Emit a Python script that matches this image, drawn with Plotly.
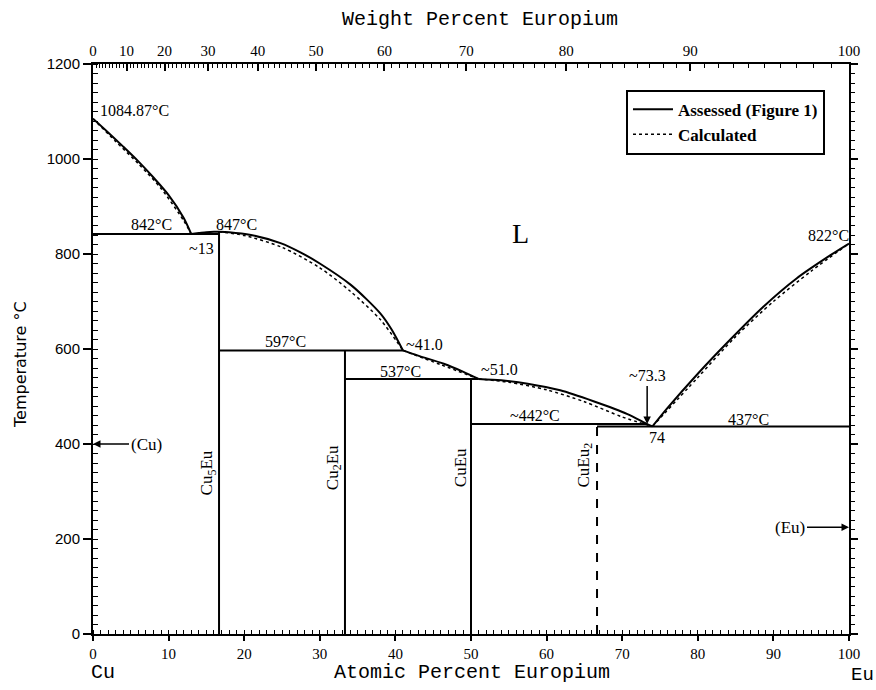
import plotly.graph_objects as go

# ---------------- data (atomic % Eu, temperature in deg C) ----------------
# Assessed liquidus branches
liq_cu_x = [0, 2, 4, 6, 8, 10, 12, 13]
liq_cu_t = [1084.87, 1056, 1026, 995, 961, 924, 876, 842]

liq_cu5_left_x = [13, 14, 15, 16, 16.67]
liq_cu5_left_t = [842, 844, 846, 847, 847]

liq_cu5_x = [16.67, 18, 20.9, 24.8, 27.5, 30, 34.1, 38.0, 39.5, 41.0]
liq_cu5_t = [847, 846, 840, 823, 803, 780, 735, 675, 641, 597]

liq_cu2_x = [41.0, 43, 46.4, 49, 51.0]
liq_cu2_t = [597, 586, 569, 552, 537]

liq_cueu_x = [51.0, 54, 57.5, 61.8, 66.2, 70.7, 73.3, 74]
liq_cueu_t = [537, 534, 527, 513, 490, 463, 442, 437]

liq_eu_x = [74, 76, 80, 84.3, 88.6, 93.1, 97.5, 100]
liq_eu_t = [437, 476, 548, 620, 688, 749, 797, 822]

# Calculated liquidus branches
calc_cu_x = [0, 3, 6, 9, 12, 13]
calc_cu_t = [1084.87, 1037, 990, 938, 870, 842]
calc_cu5_x = [16.67, 20, 25, 30, 34, 38, 41]
calc_cu5_t = [847, 839, 814, 771, 722, 662, 597]
calc_cu2_x = [41, 46, 51]
calc_cu2_t = [597, 567, 537]
calc_cueu_x = [51, 55, 60, 65, 70, 74]
calc_cueu_t = [537, 530, 514, 489, 457, 437]
calc_eu_x = [74, 80, 85, 90, 95, 100]
calc_eu_t = [437, 540, 626, 700, 764, 822]

# Invariant (horizontal) lines: (x_start, x_end, temperature)
invariants = [(0, 16.67, 842), (16.67, 41.0, 597), (33.33, 51.0, 537),
              (50.0, 73.3, 442), (66.67, 100, 437)]
# Compound lines: (composition, top temperature, dashed?)
compounds = [(16.67, 847, False), (33.33, 597, False), (50.0, 537, False), (66.67, 442, True)]

# Tick definitions
at_ticks = list(range(0, 101, 10))
wt_ticks = list(range(0, 101, 10))
t_ticks = list(range(0, 1201, 200))

M_CU, M_EU = 63.546, 151.96


def wt_to_at(w):
    if w >= 100:
        return 100.0
    ne = w / M_EU
    nc = (100 - w) / M_CU
    return 100 * ne / (ne + nc)


wt_tick_pos = [wt_to_at(w) for w in wt_ticks]
wt_minor_pos = [wt_to_at(w) for w in range(0, 101)]

# ---------------- figure ----------------
fig = go.Figure()
LW = 2
solid = dict(color="black", width=LW, shape="spline", smoothing=0.8)
solid_straight = dict(color="black", width=LW)
dotted = dict(color="black", width=1.5, dash="dot", shape="spline", smoothing=0.8)

first = True
for xs, ts in [(liq_cu_x, liq_cu_t), (liq_cu5_left_x, liq_cu5_left_t), (liq_cu5_x, liq_cu5_t),
               (liq_cu2_x, liq_cu2_t), (liq_cueu_x, liq_cueu_t), (liq_eu_x, liq_eu_t)]:
    fig.add_trace(go.Scatter(x=xs, y=ts, mode="lines", line=solid, name="Assessed (Figure 1)",
                             legendgroup="a", showlegend=first, hoverinfo="skip"))
    first = False

first = True
for xs, ts in [(calc_cu_x, calc_cu_t), (calc_cu5_x, calc_cu5_t), (calc_cu2_x, calc_cu2_t),
               (calc_cueu_x, calc_cueu_t), (calc_eu_x, calc_eu_t)]:
    fig.add_trace(go.Scatter(x=xs, y=ts, mode="lines", line=dotted, name="Calculated",
                             legendgroup="c", showlegend=first, hoverinfo="skip"))
    first = False

for x0, x1, t in invariants:
    fig.add_trace(go.Scatter(x=[x0, x1], y=[t, t], mode="lines", line=solid_straight,
                             showlegend=False, hoverinfo="skip"))

for xc, ttop, dashed in compounds:
    ln = dict(color="black", width=LW, dash="dash") if dashed else solid_straight
    fig.add_trace(go.Scatter(x=[xc, xc], y=[0, ttop], mode="lines", line=ln,
                             showlegend=False, hoverinfo="skip"))

# invisible traces to activate the secondary axes
fig.add_trace(go.Scatter(x=[0, 100], y=[0, 0], xaxis="x2", yaxis="y", mode="lines",
                         line=dict(width=0), showlegend=False, hoverinfo="skip"))
fig.add_trace(go.Scatter(x=[100, 100], y=[0, 1200], xaxis="x", yaxis="y3", mode="lines",
                         line=dict(width=0), showlegend=False, hoverinfo="skip"))

TICKFONT = dict(family="Liberation Sans Narrow", size=15, color="black")
LBL = dict(family="Liberation Serif", size=16, color="black")

fig.update_layout(
    width=876, height=690,
    margin=dict(l=93, r=27, t=64, b=56),
    paper_bgcolor="white", plot_bgcolor="white",
    showlegend=True,
    legend=dict(x=0.705, y=0.955, xanchor="left", yanchor="top",
                bgcolor="white", bordercolor="black", borderwidth=2,
                font=dict(family="Liberation Serif", size=17, color="black", weight="bold"),
                tracegroupgap=0, itemwidth=40),
    xaxis=dict(range=[0, 100], tickmode="array", tickvals=at_ticks,
               ticks="outside", ticklen=5, tickwidth=1.5, tickcolor="black",
               showline=True, linecolor="black", linewidth=2, showgrid=False, zeroline=False,
               tickfont=TICKFONT,
               minor=dict(dtick=1, tick0=0, ticks="inside", ticklen=4, tickcolor="black",
                          tickwidth=1, showgrid=False)),
    xaxis2=dict(range=[0, 100], overlaying="x", side="top", tickmode="array",
                tickvals=wt_tick_pos, ticktext=[str(w) for w in wt_ticks],
                ticks="inside", ticklen=7, tickwidth=1.5, tickcolor="black",
                showline=True, linecolor="black", linewidth=2, showgrid=False, zeroline=False,
                tickfont=TICKFONT,
                minor=dict(tickmode="array", tickvals=wt_minor_pos, ticks="inside", ticklen=4,
                           tickcolor="black", tickwidth=1, showgrid=False)),
    yaxis=dict(range=[0, 1200], tickmode="array", tickvals=t_ticks,
               ticks="outside", ticklen=8, tickwidth=1.5, tickcolor="black",
               showline=True, linecolor="black", linewidth=2, showgrid=False, zeroline=False,
               tickfont=dict(family="Liberation Sans", size=15, color="black"),
               minor=dict(dtick=20, tick0=0, ticks="inside", ticklen=5, tickcolor="black",
                          tickwidth=1, showgrid=False)),
    yaxis3=dict(range=[0, 1200], overlaying="y", side="right", tickmode="array",
                tickvals=t_ticks, showticklabels=False,
                ticks="outside", ticklen=7, tickwidth=1.5, tickcolor="black",
                showline=True, linecolor="black", linewidth=2, showgrid=False, zeroline=False,
                minor=dict(dtick=20, tick0=0, ticks="outside", ticklen=4, tickcolor="black",
                           tickwidth=1, showgrid=False)),
)

# paper-coordinate helpers (plot area: x 93..849 px, y 64..634 px)
def px(xp):
    return (xp - 93) / 756.0


def py(yp):
    return (634 - yp) / 570.0


ann = []
TITLEFONT = dict(family="Liberation Mono", size=20, color="black")
ann.append(dict(xref="paper", yref="paper", x=px(480), y=py(20), text="Weight Percent Europium",
                showarrow=False, font=TITLEFONT, xanchor="center", yanchor="middle"))
ann.append(dict(xref="paper", yref="paper", x=px(472), y=py(672), text="Atomic Percent Europium",
                showarrow=False, font=TITLEFONT, xanchor="center", yanchor="middle"))
ann.append(dict(xref="paper", yref="paper", x=px(20), y=py(365), text="Temperature °C",
                showarrow=False, font=dict(family="DejaVu Sans", size=16, color="black"),
                textangle=-90, xanchor="center", yanchor="middle"))
ann.append(dict(xref="paper", yref="paper", x=px(103), y=py(672), text="Cu",
                showarrow=False, font=TITLEFONT, xanchor="center", yanchor="middle"))
ann.append(dict(xref="paper", yref="paper", x=px(862), y=py(675), text="Eu",
                showarrow=False, font=dict(family="Liberation Mono", size=19, color="black"),
                xanchor="center", yanchor="middle"))

# point labels
labels = [
    (0.7, 1103, "1084.87°C", "left"),
    (7.7, 863, "842°C", "center"),
    (14.3, 812, "~13", "center"),
    (19.0, 862, "847°C", "center"),
    (25.5, 615, "597°C", "center"),
    (41.2, 610, "~41.0", "left"),
    (40.7, 553, "537°C", "center"),
    (51.0, 556, "~51.0", "left"),
    (58.5, 460, "~442°C", "center"),
    (74.6, 414, "74", "center"),
    (86.7, 452, "437°C", "center"),
    (97.3, 838, "822°C", "center"),
]
for x, t, s, xa in labels:
    ann.append(dict(x=x, y=t, text=s, showarrow=False, font=LBL, xanchor=xa, yanchor="middle"))

ann.append(dict(x=56.5, y=844, text="L", showarrow=False,
                font=dict(family="Liberation Serif", size=28, color="black")))

# compound labels
comp_labels = [(15.2, 340, "Cu<sub>5</sub>Eu"), (31.8, 350, "Cu<sub>2</sub>Eu"),
               (48.6, 350, "CuEu"), (65.1, 355, "CuEu<sub>2</sub>")]
for x, t, s in comp_labels:
    ann.append(dict(x=x, y=t, text=s, showarrow=False, textangle=-90,
                    font=dict(family="Liberation Serif", size=17, color="black")))

# arrows
ann.append(dict(x=73.3, y=442, ax=0, ay=-38, text="~73.3", showarrow=True, arrowhead=2,
                arrowsize=1, arrowwidth=1.5, arrowcolor="black", font=LBL, yanchor="bottom"))
ann.append(dict(x=0, y=400, ax=36, ay=0, text="(Cu)", showarrow=True, arrowhead=2,
                arrowsize=1, arrowwidth=1.5, arrowcolor="black", xanchor="left",
                font=dict(family="Liberation Serif", size=17, color="black")))
ann.append(dict(x=100, y=225, ax=-42, ay=0, text="(Eu)", showarrow=True, arrowhead=2,
                arrowsize=1, arrowwidth=1.5, arrowcolor="black", xanchor="right",
                font=dict(family="Liberation Serif", size=17, color="black")))

fig.update_layout(annotations=ann)
fig.write_html("out.html", config={"displayModeBar": False},
               post_script="document.body.style.margin='0';")
